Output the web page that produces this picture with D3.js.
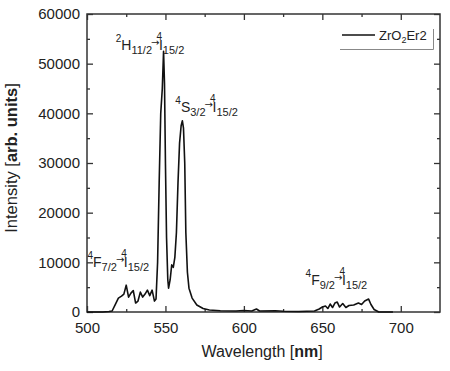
<!DOCTYPE html>
<html>
<head>
<meta charset="utf-8">
<script src="https://cdn.jsdelivr.net/npm/d3@7"></script>
<style>
  body { margin: 0; background: #fff; }
  text { font-family: "Liberation Sans", Arial, sans-serif; fill: #222; }
</style>
</head>
<body>
<div id="chart"></div>
<script>
// Spectrum
const wavelength = [500, 505, 510, 514, 516, 518, 520, 522, 523.5, 525, 526.5, 528, 529.5, 531, 532.5,
  534, 535.5, 537, 538.5, 540, 541.5, 543, 544, 545, 546, 547, 548, 548.8, 549.4, 550, 550.7, 551.5,
  552, 553, 554, 555, 556, 557, 558, 559, 560, 560.8, 561.5, 562.3, 563, 564, 565, 567, 570, 574,
  578, 585, 595, 600, 605, 608, 610, 620, 625, 635, 645, 648, 650, 652, 653.5, 655, 656.5, 658,
  659.5, 661, 663, 665, 667, 670, 673, 675, 677, 679.5, 681, 683, 686, 695];
const intensity = [0, 0, 0, 100, 200, 1500, 2800, 3200, 3600, 5400, 3000, 3800, 4300, 1800, 2200,
  4000, 3000, 3600, 4400, 3300, 4400, 2200, 2600, 10000, 26000, 40000, 45000, 52500, 46000, 30000, 15000, 6500,
  4800, 6500, 9500, 9000, 11000, 16000, 26000, 34000, 37500, 38500, 37000, 30000, 16000, 8000, 4800, 2800, 1400, 700,
  400, 250, 200, 300, 200, 600, 200, 250, 150, 100, 200, 600, 1000, 1200, 700, 1600, 900, 1800,
  2000, 1000, 1700, 900, 1300, 1400, 1800, 1500, 2200, 2600, 1500, 500, 0, 0];

const xTicks = [500, 550, 600, 650, 700];
const yTicks = [0, 10000, 20000, 30000, 40000, 50000, 60000];
const seriesName = ["ZrO", "2", "Er2"];

// transitions: [upper sup, upper letter, upper sub, lower sup, lower letter, lower sub, wavelength, intensity]
const transitions = [
  ["2", "H", "11/2", "4", "I", "15/2", 521.5, 52800],
  ["4", "S", "3/2", "4", "I", "15/2", 559.5, 40300],
  ["4", "F", "7/2", "4", "I", "15/2", 503.5, 9000],
  ["4", "F", "9/2", "4", "I", "15/2", 642.5, 5400]
];

const width = 450, height = 371;
const margin = {top: 14, right: 10, bottom: 59, left: 87};

const svg = d3.select('#chart').append('svg')
  .attr('width', width).attr('height', height);

const x = d3.scaleLinear().domain([500, 725]).range([margin.left, width - margin.right]);
const y = d3.scaleLinear().domain([0, 60000]).range([height - margin.bottom, margin.top]);

const frameColor = '#333';

// ticks (all pointing inward)
function tickAxis(axisFn, scale, values, size, pos, labels) {
  const ax = axisFn(scale).tickValues(values).tickSize(-size)
    .tickPadding(labels ? (axisFn === d3.axisBottom ? 10 : 7) : 0)
    .tickFormat(labels ? d3.format('d') : '');
  const g = svg.append('g').attr('transform', pos).call(ax);
  g.select('.domain').remove();
  g.selectAll('line').attr('stroke', frameColor).attr('stroke-width', 1.3);
  g.selectAll('text').attr('font-size', 15).attr('fill', '#222')
    .style('font-family', '"Liberation Sans", Arial, sans-serif');
  return g;
}
const xMinor = d3.range(525, 725, 50);
const yMinor = d3.range(5000, 60000, 10000);
const posBottom = `translate(0,${y(0)})`, posTop = `translate(0,${y(60000)})`;
const posLeft = `translate(${x(500)},0)`, posRight = `translate(${x(725)},0)`;

tickAxis(d3.axisBottom, x, xTicks, 6, posBottom, true);
tickAxis(d3.axisBottom, x, xMinor, 3, posBottom, false);
tickAxis(d3.axisTop, x, xTicks, 6, posTop, false);
tickAxis(d3.axisTop, x, xMinor, 3, posTop, false);
tickAxis(d3.axisLeft, y, yTicks, 6, posLeft, true);
tickAxis(d3.axisLeft, y, yMinor, 3, posLeft, false);
tickAxis(d3.axisRight, y, yTicks, 6, posRight, false);
tickAxis(d3.axisRight, y, yMinor, 3, posRight, false);

// frame
svg.append('rect')
  .attr('x', x(500)).attr('y', y(60000))
  .attr('width', x(725) - x(500)).attr('height', y(0) - y(60000))
  .attr('fill', 'none').attr('stroke', frameColor).attr('stroke-width', 1.5);

// spectrum
const pts = wavelength.map((w, i) => [w, intensity[i]]);
svg.append('path')
  .datum(pts)
  .attr('fill', 'none')
  .attr('stroke', '#111')
  .attr('stroke-width', 1.6)
  .attr('stroke-linejoin', 'round')
  .attr('d', d3.line().x(d => x(d[0])).y(d => y(d[1])));

// transition labels
transitions.forEach(t => {
  const txt = svg.append('text')
    .attr('x', x(t[6])).attr('y', y(t[7]));
  txt.append('tspan').attr('font-size', 10).attr('dx', -5).attr('dy', -8).text(t[0]);
  txt.append('tspan').attr('font-size', 14).attr('dy', 8).text(t[1]);
  txt.append('tspan').attr('font-size', 11).attr('dy', 4).text(t[2]);
  txt.append('tspan').attr('font-size', 10).style('font-family', '"DejaVu Sans", sans-serif')
    .attr('dx', -1).attr('dy', -8).text('\u2192');
  txt.append('tspan').attr('font-size', 10).attr('dx', -3).attr('dy', -6).text(t[3]);
  txt.append('tspan').attr('font-size', 14).attr('dx', -3).attr('dy', 10).text(t[4]);
  txt.append('tspan').attr('font-size', 11).attr('dy', 4).text(t[5]);
});

// legend
const lg = svg.append('g');
lg.append('line').attr('x1', 342).attr('x2', 375).attr('y1', 35).attr('y2', 35)
  .attr('stroke', '#111').attr('stroke-width', 1.6);
const lt = lg.append('text').attr('x', 379).attr('y', 40).attr('font-size', 13);
lt.append('tspan').text(seriesName[0]);
lt.append('tspan').attr('font-size', 9).attr('dy', 3).text(seriesName[1]);
lt.append('tspan').attr('dy', -3).text(seriesName[2]);
lg.append('path').attr('d', 'M340,49.5H433.5V29')
  .attr('fill', 'none').attr('stroke', '#888').attr('stroke-width', 1);

// axis titles
const xt = svg.append('text')
  .attr('x', 262).attr('y', 357).attr('text-anchor', 'middle').attr('font-size', 16);
xt.append('tspan').text('Wavelength [');
xt.append('tspan').attr('font-weight', 'bold').text('nm');
xt.append('tspan').text(']');

const yt = svg.append('text')
  .attr('transform', 'translate(17,158) rotate(-90)')
  .attr('text-anchor', 'middle').attr('font-size', 16.5);
yt.append('tspan').text('Intensity [');
yt.append('tspan').attr('font-weight', 'bold').text('arb. units');
yt.append('tspan').text(']');
</script>
</body>
</html>
